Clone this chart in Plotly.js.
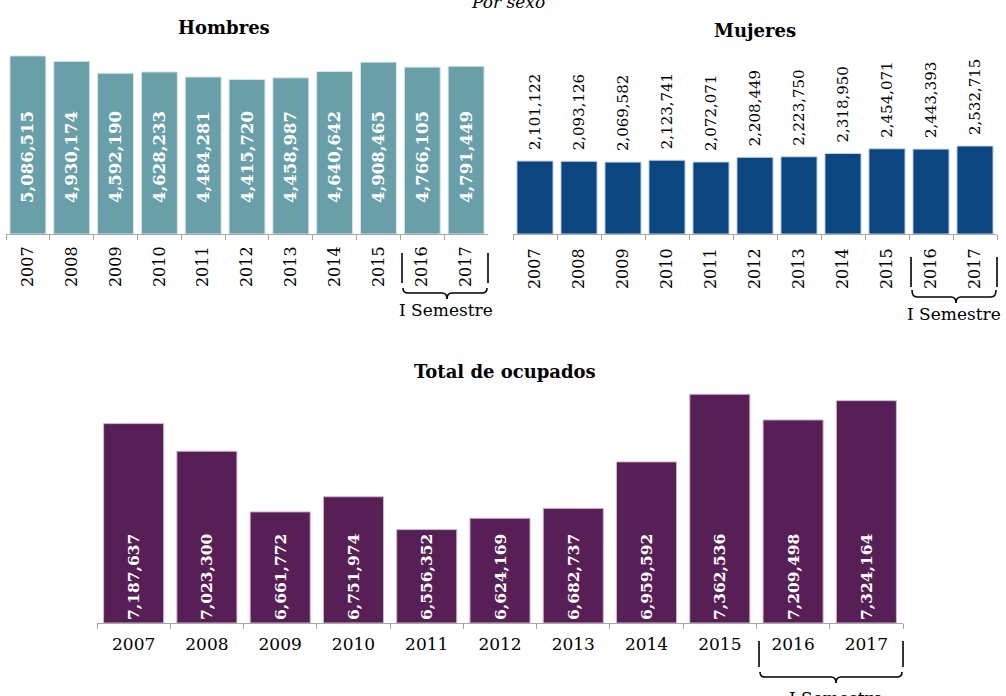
<!DOCTYPE html>
<html>
<head>
<meta charset="utf-8">
<script src="https://cdn.plot.ly/plotly-3.0.1.min.js"></script>
<style>html,body{margin:0;padding:0;background:#fff;}#chart{width:1006px;height:696px;}</style>
</head>
<body>
<div id="chart"></div>
<script>
// ---- data ----
const years = ['2007','2008','2009','2010','2011','2012','2013','2014','2015','2016','2017'];
const hombres = [5086515, 4930174, 4592190, 4628233, 4484281, 4415720, 4458987, 4640642, 4908465, 4766105, 4791449];
const mujeres = [2101122, 2093126, 2069582, 2123741, 2072071, 2208449, 2223750, 2318950, 2454071, 2443393, 2532715];
const total   = [7187637, 7023300, 6661772, 6751974, 6556352, 6624169, 6682737, 6959592, 7362536, 7209498, 7324164];
const titles = ['Hombres', 'Mujeres', 'Total de ocupados'];
const subtitle = 'Por sexo';
const semestreLabel = 'I Semestre';

// ---- helpers ----
const W = 1006, H = 696;
const px = v => v / W;
const py = v => 1 - v / H;
const fmt = v => v.toLocaleString('en-US');
const SERIF = '"DejaVu Serif", "Liberation Serif", serif';

const cTeal = '#699fa9';
const cBlue = '#0b4680';
const cPurple = '#571f55';
const axisGrey = '#a6a6a6';

// label offsets (layout only)
const hLabelOffset = 800000;
const mLabelOffset = 230000;
const totalBase = 6000000;

const traces = [
  { type: 'bar', x: years, y: hombres, xaxis: 'x', yaxis: 'y',
    marker: { color: cTeal, line: { color: '#d8e6e9', width: 1 } }, hoverinfo: 'skip' },
  { type: 'bar', x: years, y: hombres.map(v => v - hLabelOffset), base: hLabelOffset,
    xaxis: 'x', yaxis: 'y', marker: { color: 'rgba(0,0,0,0)' }, constraintext: 'none',
    text: hombres.map(fmt), textposition: 'inside', insidetextanchor: 'start', textangle: -90,
    textfont: { family: SERIF, size: 16.5, color: '#ffffff', weight: 'bold' }, hoverinfo: 'skip' },
  { type: 'bar', x: years, y: mujeres, xaxis: 'x2', yaxis: 'y2',
    marker: { color: cBlue, line: { color: '#c9d4e0', width: 1 } }, hoverinfo: 'skip' },
  { type: 'bar', x: years, y: mujeres.map(v => v + mLabelOffset),
    xaxis: 'x2', yaxis: 'y2', marker: { color: 'rgba(0,0,0,0)' }, cliponaxis: false,
    constraintext: 'none',
    text: mujeres.map(fmt), textposition: 'outside', textangle: -90,
    textfont: { family: SERIF, size: 15, color: '#000000' }, hoverinfo: 'skip' },
  { type: 'bar', x: years, y: total.map(v => v - totalBase), base: totalBase, xaxis: 'x3', yaxis: 'y3',
    marker: { color: cPurple, line: { color: '#cdb9cc', width: 1 } }, constraintext: 'none',
    text: total.map(fmt), textposition: 'inside', insidetextanchor: 'start', textangle: -90,
    textfont: { family: SERIF, size: 15.5, color: '#ffffff', weight: 'bold' }, hoverinfo: 'skip' }
];

function xax(d0, d1, anchor, angle, size, standoff) {
  return { domain: [px(d0), px(d1)], anchor: anchor, type: 'category', tickson: 'boundaries',
    ticks: 'outside', ticklen: 5, tickcolor: axisGrey, tickwidth: 1, ticklabelstandoff: standoff,
    showline: true, linecolor: axisGrey, linewidth: 1, showgrid: false, zeroline: false,
    tickangle: angle, tickfont: { family: SERIF, size: size, color: '#000' }, fixedrange: true };
}
function yax(top, bottom, range, anchor) {
  return { domain: [py(bottom), py(top)], range: range, anchor: anchor, visible: false, fixedrange: true };
}

function bracket(xl, xr, lineTop, lineBot, braceTop, braceY, xc, braceBot) {
  const L = { type: 'line', xref: 'paper', yref: 'paper', line: { color: '#000', width: 1.6 } };
  const r = 5;
  const path = `M ${px(xl)},${py(braceTop)} Q ${px(xl)},${py(braceY)} ${px(xl + r)},${py(braceY)} ` +
    `L ${px(xc - r)},${py(braceY)} Q ${px(xc)},${py(braceY)} ${px(xc)},${py(braceBot)} ` +
    `Q ${px(xc)},${py(braceY)} ${px(xc + r)},${py(braceY)} L ${px(xr - r)},${py(braceY)} ` +
    `Q ${px(xr)},${py(braceY)} ${px(xr)},${py(braceTop)}`;
  return [
    Object.assign({}, L, { x0: px(xl - 1), x1: px(xl - 1), y0: py(lineTop), y1: py(lineBot) }),
    Object.assign({}, L, { x0: px(xr + 1), x1: px(xr + 1), y0: py(lineTop), y1: py(lineBot) }),
    { type: 'path', xref: 'paper', yref: 'paper', path: path, line: { color: '#000', width: 1.6 } }
  ];
}

const shapes = [].concat(
  bracket(403, 487, 253, 283, 288, 293, 447, 299),
  bracket(912, 996, 257, 287, 290, 297, 956, 303),
  bracket(760, 902, 641, 667, 672, 677, 836, 683)
);

function ann(text, x, y, size, opts) {
  return Object.assign({ text: text, xref: 'paper', yref: 'paper', x: px(x), y: py(y),
    xanchor: 'center', yanchor: 'middle', showarrow: false,
    font: { family: SERIF, size: size, color: '#000' } }, opts || {});
}

const annotations = [
  ann(subtitle, 508, 2, 17, { font: { family: SERIF, size: 17, color: '#000', style: 'italic' } }),
  ann('<b>' + titles[0] + '</b>', 224, 27, 18),
  ann('<b>' + titles[1] + '</b>', 755, 30, 18),
  ann('<b>' + titles[2] + '</b>', 505, 372, 18),
  ann(semestreLabel, 446, 310, 17),
  ann(semestreLabel, 954, 314, 17),
  ann(semestreLabel, 836, 686, 17, { yanchor: 'top' })
];

const layout = {
  width: W, height: H, margin: { l: 0, r: 0, t: 0, b: 0 },
  paper_bgcolor: '#fff', plot_bgcolor: 'rgba(0,0,0,0)',
  showlegend: false, barmode: 'overlay', bargap: 0.18,
  font: { family: SERIF, color: '#000' },
  xaxis: xax(6, 488, 'y', -90, 16, 5),
  yaxis: yax(50, 234, [0, 5255000], 'x'),
  xaxis2: xax(513, 997, 'y2', -90, 16, 7),
  yaxis2: yax(50, 234, [0, 5296000], 'x2'),
  xaxis3: xax(97, 903, 'y3', 0, 17, 6),
  yaxis3: yax(385, 623, [totalBase, 7417500], 'x3'),
  shapes: shapes, annotations: annotations
};

Plotly.newPlot('chart', traces, layout, { displayModeBar: false, staticPlot: true });
</script>
</body>
</html>
